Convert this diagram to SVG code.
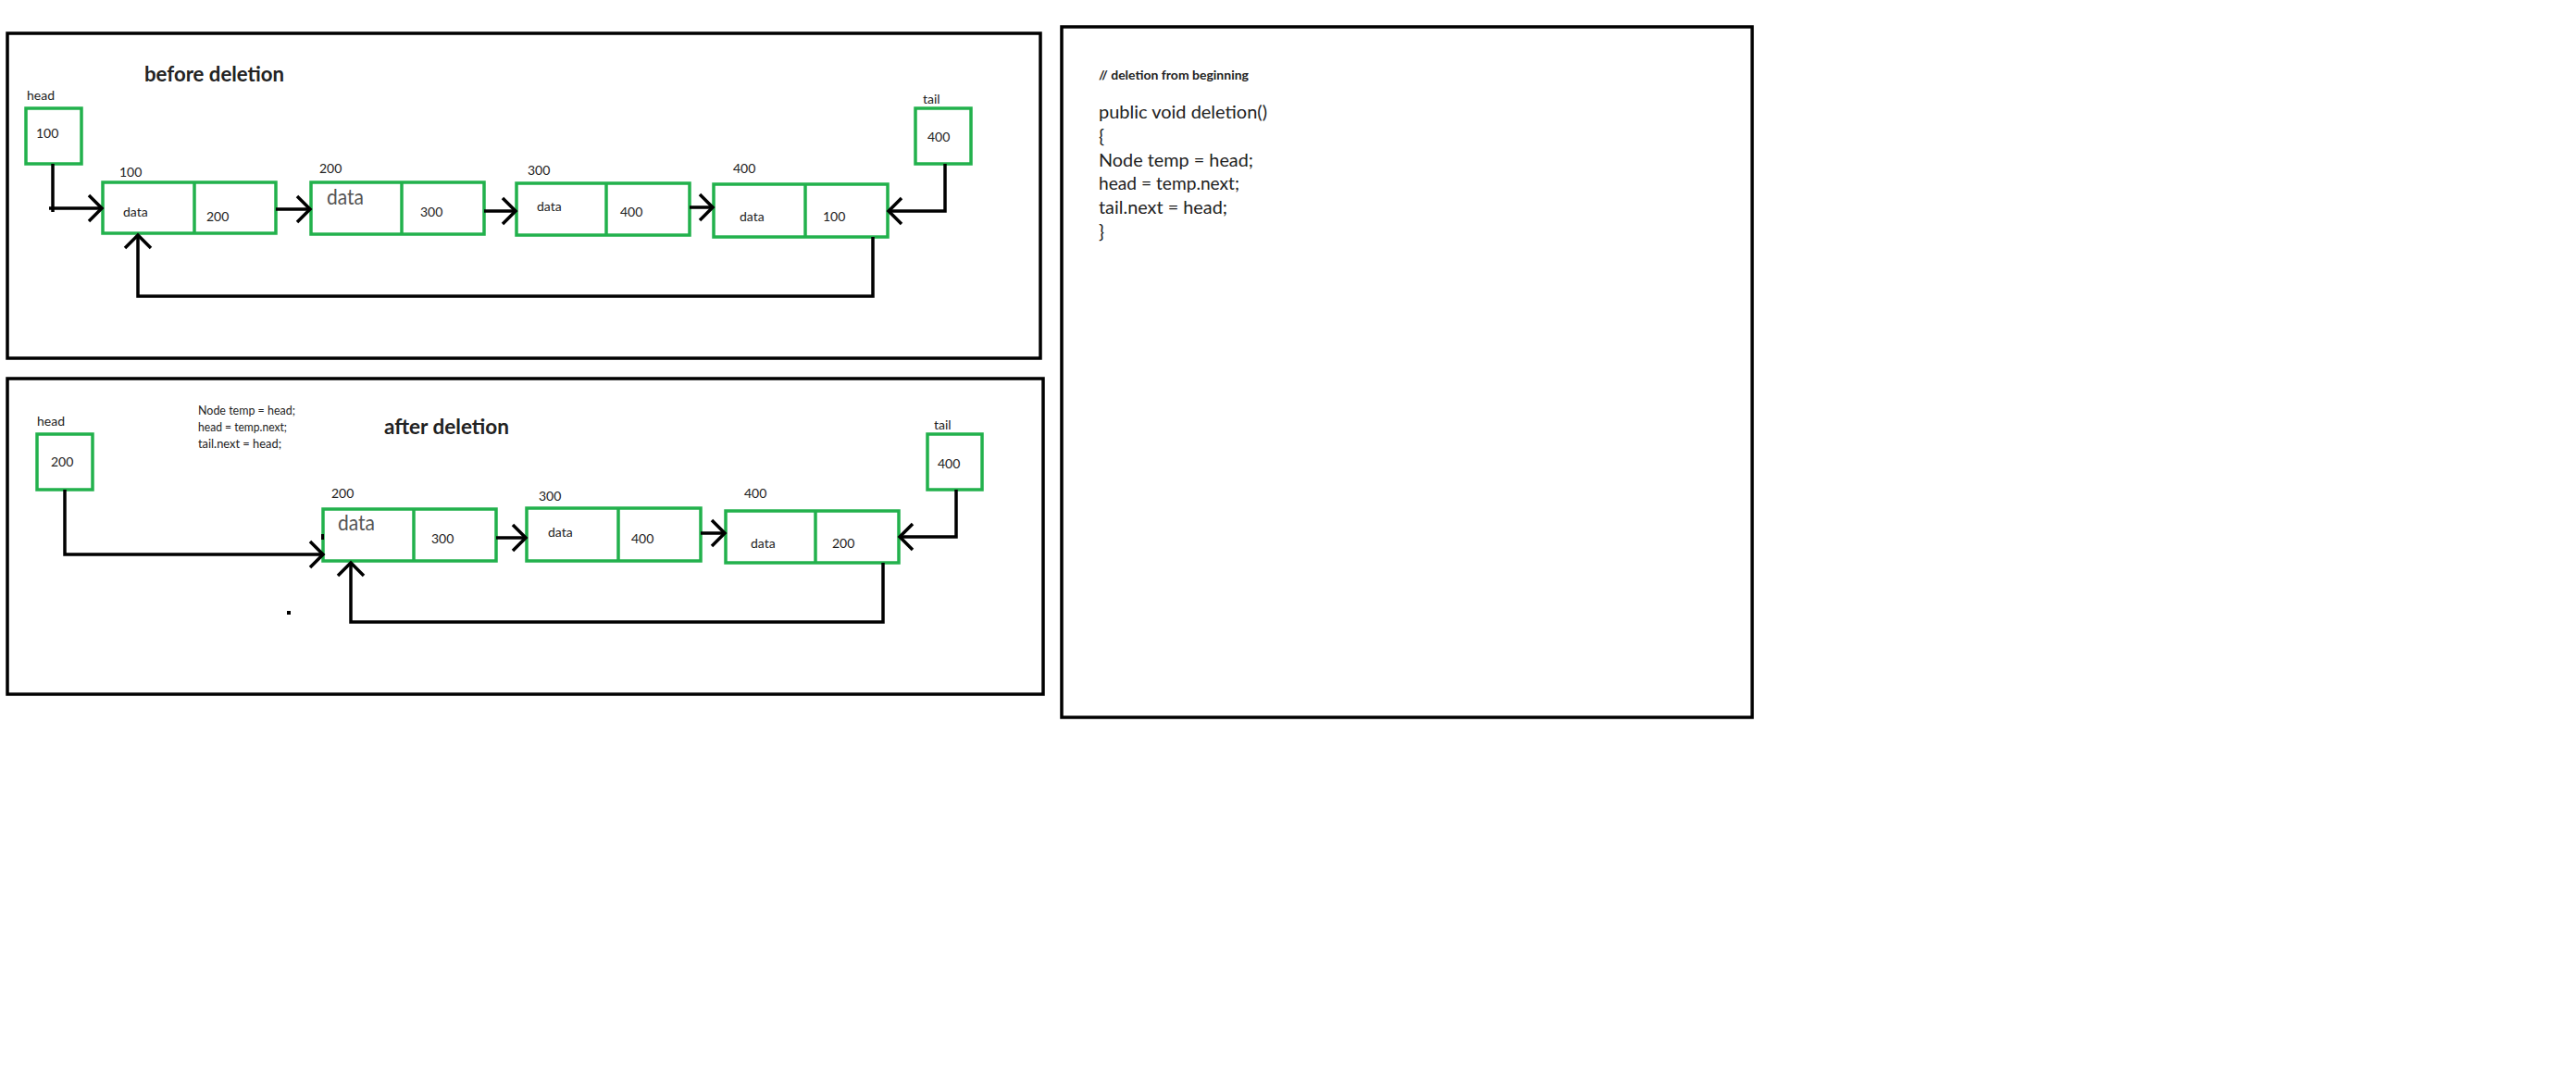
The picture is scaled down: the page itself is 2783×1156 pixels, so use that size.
<svg xmlns="http://www.w3.org/2000/svg" width="2783" height="1156" viewBox="0 0 2783 1156">
<style>
  text { font-family: Lato, "Open Sans", "Liberation Sans", sans-serif; fill: #222; }
  .frame { fill: none; stroke: #000; stroke-width: 3.5; }
  .box { fill: #fff; stroke: #22b14c; stroke-width: 3.5; }
  .div { stroke: #22b14c; stroke-width: 3.5; }
  .lbl { font-size: 14px; }
  .big { font-size: 23px; fill: #555; }
  .title { font-size: 22px; font-weight: bold; }
  .code { font-size: 20px; }
  .conn path { fill: none; stroke: #000; stroke-width: 3.5; }
</style>
<defs>
  <marker id="chev" viewBox="-18 -18 22 36" markerWidth="22" markerHeight="36" refX="0" refY="0" orient="auto" markerUnits="userSpaceOnUse">
    <path d="M-14,-14 L0,0 L-14,14" fill="none" stroke="#000" stroke-width="3.5"/>
  </marker>
</defs>
<rect width="2783" height="1156" fill="#fff"/>

<!-- frames -->
<rect id="frame-before" class="frame" x="8" y="36" width="1116" height="351"/>
<rect id="frame-after" class="frame" x="8" y="409" width="1119" height="341"/>
<rect id="frame-code" class="frame" x="1147" y="29" width="746" height="746"/>

<!-- before deletion -->
<text class="title" x="156" y="88" textLength="151" lengthAdjust="spacingAndGlyphs">before deletion</text>

<g id="b-head">
  <text class="lbl" x="29" y="108">head</text>
  <rect class="box" x="28" y="117" width="60" height="60"/>
  <text class="lbl" x="39" y="149">100</text>
</g>
<g id="b-node100">
  <text class="lbl" x="129" y="191">100</text>
  <rect class="box" x="111" y="197" width="187" height="55"/>
  <line class="div" x1="210" y1="197" x2="210" y2="252"/>
  <text class="lbl" x="133" y="234">data</text>
  <text class="lbl" x="223" y="239">200</text>
</g>
<g id="b-node200">
  <text class="lbl" x="345" y="187">200</text>
  <rect class="box" x="336" y="197" width="187" height="56"/>
  <line class="div" x1="434" y1="197" x2="434" y2="253"/>
  <text class="big" x="353" y="221" textLength="40" lengthAdjust="spacingAndGlyphs">data</text>
  <text class="lbl" x="454" y="234">300</text>
</g>
<g id="b-node300">
  <text class="lbl" x="570" y="189">300</text>
  <rect class="box" x="558" y="198" width="187" height="56"/>
  <line class="div" x1="655" y1="198" x2="655" y2="254"/>
  <text class="lbl" x="580" y="228">data</text>
  <text class="lbl" x="670" y="234">400</text>
</g>
<g id="b-node400">
  <text class="lbl" x="792" y="187">400</text>
  <rect class="box" x="771" y="199" width="188" height="57"/>
  <line class="div" x1="870" y1="199" x2="870" y2="256"/>
  <text class="lbl" x="799" y="239">data</text>
  <text class="lbl" x="889" y="239">100</text>
</g>
<g id="b-tail">
  <text class="lbl" x="997" y="112">tail</text>
  <rect class="box" x="989" y="117" width="60" height="60"/>
  <text class="lbl" x="1002" y="153">400</text>
</g>

<!-- after deletion -->
<text class="title" x="415" y="469" textLength="135" lengthAdjust="spacingAndGlyphs">after deletion</text>
<g id="a-note">
  <text class="lbl" x="214" y="448" textLength="105" lengthAdjust="spacingAndGlyphs">Node temp = head;</text>
  <text class="lbl" x="214" y="466" textLength="96" lengthAdjust="spacingAndGlyphs">head = temp.next;</text>
  <text class="lbl" x="214" y="484" textLength="90" lengthAdjust="spacingAndGlyphs">tail.next = head;</text>
</g>
<g id="a-head">
  <text class="lbl" x="40" y="460">head</text>
  <rect class="box" x="40" y="469" width="60" height="60"/>
  <text class="lbl" x="55" y="504">200</text>
</g>
<g id="a-node200">
  <text class="lbl" x="358" y="538">200</text>
  <rect class="box" x="349" y="550" width="187" height="56"/>
  <line class="div" x1="447" y1="550" x2="447" y2="606"/>
  <text class="big" x="365" y="573" textLength="40" lengthAdjust="spacingAndGlyphs">data</text>
  <text class="lbl" x="466" y="587">300</text>
</g>
<g id="a-node300">
  <text class="lbl" x="582" y="541">300</text>
  <rect class="box" x="569" y="549" width="188" height="57"/>
  <line class="div" x1="668" y1="549" x2="668" y2="606"/>
  <text class="lbl" x="592" y="580">data</text>
  <text class="lbl" x="682" y="587">400</text>
</g>
<g id="a-node400">
  <text class="lbl" x="804" y="538">400</text>
  <rect class="box" x="784" y="552" width="187" height="56"/>
  <line class="div" x1="881" y1="552" x2="881" y2="608"/>
  <text class="lbl" x="811" y="592">data</text>
  <text class="lbl" x="899" y="592">200</text>
</g>
<g id="a-tail">
  <text class="lbl" x="1009" y="464">tail</text>
  <rect class="box" x="1002" y="469" width="59" height="60"/>
  <text class="lbl" x="1013" y="506">400</text>
</g>
<rect x="310" y="660" width="4" height="4" fill="#000"/>
<rect x="347" y="577" width="3" height="6" fill="#000"/>

<!-- code panel -->
<g id="code">
  <text x="1187" y="86" font-size="13" font-weight="bold" textLength="162" lengthAdjust="spacingAndGlyphs">// deletion from beginning</text>
  <text class="code" x="1187" y="128" textLength="182" lengthAdjust="spacingAndGlyphs">public void deletion()</text>
  <text class="code" x="1187" y="154">{</text>
  <text class="code" x="1187" y="180" textLength="167" lengthAdjust="spacingAndGlyphs">Node temp = head;</text>
  <text class="code" x="1187" y="205" textLength="152" lengthAdjust="spacingAndGlyphs">head = temp.next;</text>
  <text class="code" x="1187" y="231" textLength="139" lengthAdjust="spacingAndGlyphs">tail.next = head;</text>
  <text class="code" x="1187" y="257">}</text>
</g>

<!-- connectors -->
<g id="connectors" class="conn">
  <path d="M57,177 V229"/>
  <path d="M53,225 H110" marker-end="url(#chev)"/>
  <path d="M298,226 H335" marker-end="url(#chev)"/>
  <path d="M523,228 H557" marker-end="url(#chev)"/>
  <path d="M745,224 H770" marker-end="url(#chev)"/>
  <path d="M1021,177 V228 H960" marker-end="url(#chev)"/>
  <path d="M943,256 V320 H149 V254" marker-end="url(#chev)"/>

  <path d="M70,529 V599 H349" marker-end="url(#chev)"/>
  <path d="M536,581 H568" marker-end="url(#chev)"/>
  <path d="M757,576 H783" marker-end="url(#chev)"/>
  <path d="M1033,529 V580 H972" marker-end="url(#chev)"/>
  <path d="M954,608 V672 H379 V608" marker-end="url(#chev)"/>
</g>
</svg>
